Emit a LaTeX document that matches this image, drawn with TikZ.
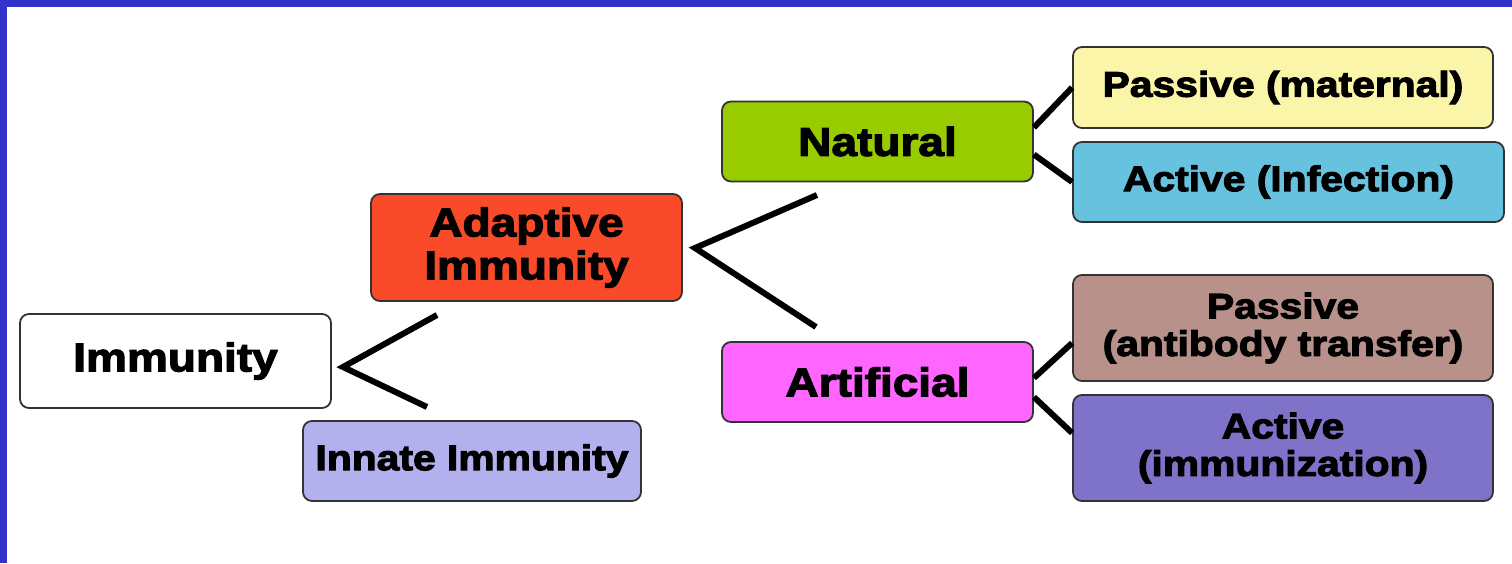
\documentclass[tikz,border=0pt]{standalone}
\usepackage{fontspec}
\setmainfont{Liberation Sans}[FakeStretch=1.15,BoldFeatures={FakeBold=3}]
\usepackage{tikz}
\usetikzlibrary{positioning}

\definecolor{framecol}{HTML}{3333CC}
\definecolor{innatecol}{HTML}{B3B0EE}
\definecolor{adaptcol}{HTML}{F94A2A}
\definecolor{natcol}{HTML}{99CC00}
\definecolor{artcol}{HTML}{FF66FF}
\definecolor{matcol}{HTML}{FAF5A8}
\definecolor{infcol}{HTML}{66C2DE}
\definecolor{abcol}{HTML}{B8918A}
\definecolor{immzcol}{HTML}{7F72C9}

\begin{document}
\begin{tikzpicture}[x=1pt,y=-1pt,
		box node/.style={draw=black!80,line width=1.8pt,rounded corners=9pt,inner sep=0pt,align=center,font=\bfseries\fontsize{40}{43}\selectfont},
		small node/.style={box node,font=\bfseries\fontsize{35.5}{37.5}\selectfont},
		fork/.style={line width=6pt}]
		
		\useasboundingbox (0,0) rectangle (1512,563);
		\fill[framecol] (0,0) rectangle (1512,7);
		\fill[framecol] (0,0) rectangle (7,563);
		
		\node[box node,fill=white,minimum width=311,minimum height=94] (imm) at (175.5,361) {Immunity};
		\node[small node,fill=innatecol,minimum width=338,minimum height=80] (innate) at (472,461) {Innate Immunity};
		\node[box node,fill=adaptcol,minimum width=311,minimum height=107] (adapt) at (526.5,247.5) {Adaptive\\Immunity};
		
		\node[box node,fill=natcol,minimum width=311,minimum height=80] (nat) at (877.5,141.5) {Natural};
		\node[box node,fill=artcol,minimum width=311,minimum height=80] (art) at (877.5,382) {Artificial};
		
		\node[small node,fill=matcol,minimum width=420,minimum height=81] (pmat) at (1283,87.5) {Passive (maternal)};
		\node[small node,fill=infcol,minimum width=431,minimum height=80] (ainf) at (1288.5,182) {Active (Infection)};
		\node[small node,fill=abcol,minimum width=420,minimum height=106] (pab) at (1283,328) {Passive\\(antibody transfer)};
		\node[small node,fill=immzcol,minimum width=420,minimum height=106] (aimm) at (1283,448) {Active\\(immunization)};
		
		% the two forks
		\coordinate (immfork) at (343,367);
		\coordinate (immup) at (437,315);
		\coordinate (immdown) at (427,407);
		\coordinate (adfork) at (695,248);
		\coordinate (adup) at (817,195);
		\coordinate (addown) at (816,327);
		
		\draw[fork] (immup) -- (immfork) -- (immdown);
		\draw[fork] (adup) -- (adfork) -- (addown);
		
		\draw[fork] ([yshift=14pt]nat.east) to (pmat.west);
		\draw[fork] ([yshift=-13pt]nat.east) to (ainf.west);
		\draw[fork] ([yshift=4pt]art.east) to ([yshift=-15pt]pab.west);
		\draw[fork] ([yshift=-15pt]art.east) to ([yshift=15pt]aimm.west);
	
		\end{tikzpicture}
\end{document}
